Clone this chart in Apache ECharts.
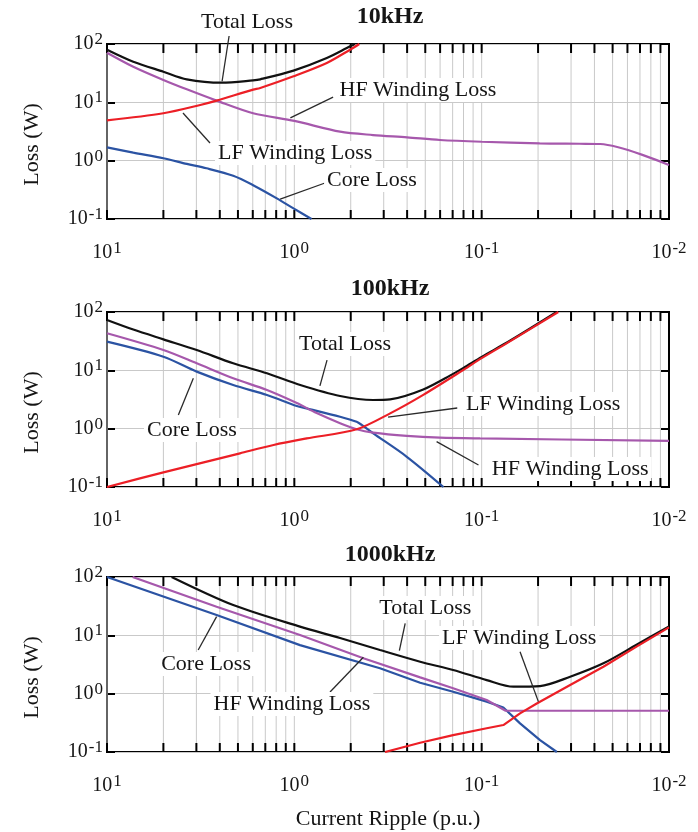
<!DOCTYPE html>
<html>
<head>
<meta charset="utf-8">
<title>Loss vs Current Ripple</title>
<script src="https://cdn.jsdelivr.net/npm/echarts@6/dist/echarts.min.js"></script>
<style>
  html, body { margin: 0; padding: 0; background: #fff; }
  #chart { width: 698px; height: 832px; }
</style>
</head>
<body>
<div id="chart"></div>
<script>
// values: [current ripple (p.u.), loss (W)]
const total10k = [[10, 80], [7.24, 49.8], [5, 33.5], [3.75, 24.8], [2.44, 21.7], [1.66, 23.8], [1.52, 24.8], [1.01, 35], [0.671, 57.5], [0.504, 91.3], [0.474, 100]]
const lf10k = [[10, 4.9], [5, 6.5], [3.18, 9.0], [2.6, 10.7], [1.66, 16.5], [1.52, 17.6], [1.01, 27.9], [0.671, 47.2], [0.504, 79.9], [0.45, 100]]
const hf10k = [[10, 71], [7.24, 40.8], [5, 24.2], [3.75, 16.7], [2.6, 10.7], [1.66, 6.5], [1, 4.8], [0.57, 3.14], [0.38, 2.75], [0.25, 2.51], [0.167, 2.26], [0.1, 2.11], [0.049, 1.98], [0.03, 1.95], [0.0233, 1.93], [0.01, 0.84]]
const core10k = [[10, 1.69], [7.24, 1.37], [5, 1.1], [3.75, 0.88], [2.94, 0.74], [2.12, 0.55], [1.66, 0.38], [1.24, 0.226], [1.01, 0.152], [0.81, 0.1]]

const total100k = [[10, 73], [7.24, 50], [5, 34], [3.32, 22.3], [2.12, 13.2], [1.4, 8.9], [0.93, 5.6], [0.57, 3.63], [0.379, 3.1], [0.308, 3.18], [0.205, 4.7], [0.142, 8.7], [0.125, 11], [0.1, 17], [0.07, 32.7], [0.0398, 100]]
const lf100k = [[10, 0.1], [5, 0.178], [1.95, 0.378], [1.29, 0.525], [0.86, 0.68], [0.465, 0.975], [0.308, 1.83], [0.205, 3.8], [0.125, 10.2], [0.1, 16.2], [0.07, 32], [0.039, 100]]
const hf100k = [[10, 43.2], [5, 22.3], [3.32, 13.2], [2.12, 7.3], [1.4, 4.6], [0.97, 2.75], [0.76, 1.85], [0.57, 1.24], [0.465, 0.975], [0.379, 0.853], [0.251, 0.75], [0.167, 0.7], [0.102, 0.68], [0.01, 0.62]]
const core100k = [[10, 31], [5, 17.1], [3.32, 9.5], [2.12, 5.6], [1.4, 3.78], [0.97, 2.45], [0.86, 2.23], [0.57, 1.6], [0.465, 1.31], [0.437, 1.16], [0.379, 0.83], [0.251, 0.33], [0.16, 0.1]]

const total1000k = [[4.52, 100], [2.12, 33], [0.933, 14.1], [0.57, 9.0], [0.349, 5.6], [0.213, 3.53], [0.142, 2.55], [0.094, 1.71], [0.0677, 1.32], [0.0488, 1.35], [0.0337, 1.95], [0.0224, 3.31], [0.0149, 6.9], [0.01, 14.2]]
const lf1000k = [[0.328, 0.1], [0.213, 0.144], [0.142, 0.195], [0.094, 0.255], [0.0766, 0.29], [0.0624, 0.46], [0.0508, 0.68], [0.0337, 1.41], [0.0224, 2.9], [0.0149, 6.4], [0.01, 13.7]]
const hf1000k = [[7.3, 100], [2.6, 31], [0.933, 10.1], [0.428, 4.04], [0.213, 1.9], [0.142, 1.24], [0.094, 0.78], [0.0745, 0.51], [0.01, 0.51]]
const core1000k = [[10, 100], [2.6, 22.3], [0.933, 6.8], [0.349, 2.72], [0.213, 1.54], [0.142, 1.08], [0.094, 0.73], [0.0766, 0.58], [0.0624, 0.31], [0.0488, 0.16], [0.0397, 0.1]]

const panelTitles = ['10kHz', '100kHz', '1000kHz']
// the original figure puts its minor ticks at decade / n
const decadeStarts = [10, 1, 0.1]
const tickSteps = [2, 3, 4, 5, 6, 7, 8, 9]

// callouts, in data coordinates of each panel
const notes10k = [
  { text: 'Total Loss', at: [1.79, 238], from: [2.23, 137], to: [2.43, 23] },
  { text: 'HF Winding Loss', at: [0.219, 16.3], from: [0.621, 12.3], to: [1.05, 5.4] },
  { text: 'LF Winding Loss', at: [0.99, 1.35], from: [2.82, 2.01], to: [3.93, 6.56] },
  { text: 'Core Loss', at: [0.385, 0.466], from: [0.686, 0.414], to: [1.19, 0.22] }
]
const notes100k = [
  { text: 'Total Loss', at: [0.536, 28.3], from: [0.669, 15.0], to: [0.73, 5.4] },
  { text: 'LF Winding Loss', at: [0.047, 2.65], from: [0.135, 2.26], to: [0.316, 1.58] },
  { text: 'Core Loss', at: [3.52, 0.95], from: [4.16, 1.71], to: [3.46, 7.3] },
  { text: 'HF Winding Loss', at: [0.0337, 0.203], from: [0.104, 0.238], to: [0.174, 0.598] }
]
const notes1000k = [
  { text: 'Total Loss', at: [0.2, 29.4], from: [0.256, 16.1], to: [0.275, 5.45] },
  { text: 'LF Winding Loss', at: [0.063, 9.0], from: [0.0624, 5.24], to: [0.0498, 0.73] },
  { text: 'Core Loss', at: [2.96, 3.22], from: [3.26, 5.6], to: [2.6, 20.9] },
  { text: 'HF Winding Loss', at: [1.03, 0.665], from: [0.645, 1.07], to: [0.428, 4.2] }
]

const FONT = 'Liberation Serif'
const INK = '#151515'
const GRID_GRAY = '#c9c9c9'
const colors = { total: '#111111', core: '#2b53a3', hf: '#a658ac', lf: '#ec1f26' }

const panels = [
  { total: total10k, lf: lf10k, hf: hf10k, core: core10k, notes: notes10k, top: 44, titleTop: 0, straight: [] },
  { total: total100k, lf: lf100k, hf: hf100k, core: core100k, notes: notes100k, top: 312, titleTop: 272, straight: [] },
  { total: total1000k, lf: lf1000k, hf: hf1000k, core: core1000k, notes: notes1000k, top: 577, titleTop: 538, straight: ['lf', 'hf', 'core'] }
]

const xTickValues = []
decadeStarts.forEach((d) => {
  xTickValues.push(d)
  tickSteps.forEach((n) => xTickValues.push(d / n))
})

function powerLabel(v) {
  const e = Math.round(Math.log10(v))
  return '{b|10}{s|' + e + '}'
}

const labelRich = {
  b: { fontFamily: FONT, fontSize: 20, color: INK, lineHeight: 26 },
  s: { fontFamily: FONT, fontSize: 17, color: INK, verticalAlign: 'top', lineHeight: 17, padding: [0, 0, 0, 1] }
}

function renderXTicks(params, api) {
  const cs = params.coordSys
  const x = api.coord([api.value(0), 1])[0]
  const bottom = cs.y + cs.height
  return {
    type: 'group',
    children: [
      { type: 'line', shape: { x1: x, y1: cs.y, x2: x, y2: bottom }, style: { stroke: GRID_GRAY, lineWidth: 1 } },
      { type: 'line', shape: { x1: x, y1: cs.y, x2: x, y2: cs.y + 9 }, style: { stroke: '#000', lineWidth: 2 } },
      { type: 'line', shape: { x1: x, y1: bottom - 9, x2: x, y2: bottom }, style: { stroke: '#000', lineWidth: 2 } }
    ]
  }
}

const grid = []
const xAxis = []
const yAxis = []
const series = []
const title = []
const firstSeriesOfPanel = []

panels.forEach((p, i) => {
  grid.push({
    left: 107, top: p.top, width: 562, height: 175,
    show: true, borderColor: '#000', borderWidth: 2, backgroundColor: 'transparent'
  })
  title.push({
    text: panelTitles[i], left: 385, top: p.titleTop, textAlign: 'center',
    textStyle: { fontFamily: FONT, fontSize: 24, fontWeight: 'bold', color: INK }
  })
  xAxis.push({
    type: 'log', logBase: 10, gridIndex: i, min: 0.01, max: 10, inverse: true,
    axisLine: { show: false }, axisTick: { show: false }, splitLine: { show: false },
    axisLabel: { margin: 21, formatter: powerLabel, rich: labelRich, showMinLabel: true, showMaxLabel: true },
    name: i === 2 ? 'Current Ripple (p.u.)' : '',
    nameLocation: 'middle', nameGap: 56,
    nameTextStyle: { fontFamily: FONT, fontSize: 22, color: INK }
  })
  yAxis.push({
    type: 'log', logBase: 10, gridIndex: i, min: 0.1, max: 100,
    axisLine: { show: false },
    axisTick: { show: true, inside: true, length: 8, lineStyle: { color: '#000', width: 2 } },
    splitLine: { show: true, lineStyle: { color: GRID_GRAY, width: 1 } },
    axisLabel: { margin: 4, formatter: powerLabel, rich: labelRich, showMinLabel: true, showMaxLabel: true },
    name: 'Loss (W)', nameLocation: 'middle', nameGap: 64,
    nameTextStyle: { fontFamily: FONT, fontSize: 22, color: INK, padding: [0, 26, 0, 0] }
  })
  yAxis.push({
    type: 'log', logBase: 10, gridIndex: i, min: 0.1, max: 100, position: 'right',
    axisLine: { show: false },
    axisTick: { show: true, inside: true, length: 8, lineStyle: { color: '#000', width: 2 } },
    splitLine: { show: false }, axisLabel: { show: false }
  })

  series.push({
    type: 'custom', xAxisIndex: i, yAxisIndex: 2 * i, silent: true, z: 1,
    data: xTickValues.map((v) => [v, 1]), renderItem: renderXTicks
  })

  firstSeriesOfPanel.push(series.length)
  ;['total', 'core', 'hf', 'lf'].forEach((key) => {
    series.push({
      type: 'line', name: key, xAxisIndex: i, yAxisIndex: 2 * i,
      data: p[key], showSymbol: false, symbol: 'none',
      smooth: p.straight.includes(key) ? false : 0.3,
      lineStyle: { color: colors[key], width: 2.2 },
      z: 3, silent: true
    })
  })
})

const chart = echarts.init(document.getElementById('chart'), null, { renderer: 'canvas' })
chart.setOption({
  backgroundColor: '#fff',
  animation: false,
  textStyle: { fontFamily: FONT },
  title, grid, xAxis, yAxis, series
})

// callouts with leader lines, placed through each panel's own scales
const graphic = []
panels.forEach((p, i) => {
  const finder = { seriesIndex: firstSeriesOfPanel[i] }
  p.notes.forEach((n) => {
    const a = chart.convertToPixel(finder, n.from)
    const b = chart.convertToPixel(finder, n.to)
    const c = chart.convertToPixel(finder, n.at)
    graphic.push({
      type: 'line', z: 20, silent: true,
      shape: { x1: a[0], y1: a[1], x2: b[0], y2: b[1] },
      style: { stroke: '#2a2a2a', lineWidth: 1.3 }
    })
    graphic.push({
      type: 'text', z: 21, silent: true, x: c[0], y: c[1],
      style: {
        text: n.text, font: '22px "Liberation Serif"', fill: INK,
        align: 'center', verticalAlign: 'middle',
        backgroundColor: '#fff', padding: [1, 3]
      }
    })
  })
})
chart.setOption({ graphic })
</script>
</body>
</html>
